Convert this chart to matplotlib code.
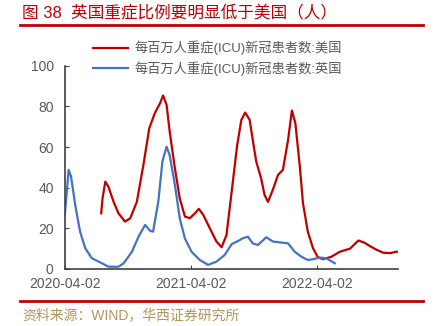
import matplotlib.pyplot as plt
import matplotlib.dates as mdates
import pandas as pd

plt.rcParams['font.family'] = ['Liberation Sans', 'Noto Sans CJK SC', 'DejaVu Sans']

# 每百万人重症(ICU)新冠患者数:美国
us_dates = ['2020-07-16', '2020-07-20', '2020-07-28', '2020-08-06', '2020-08-21',
            '2020-09-04', '2020-09-23', '2020-10-08', '2020-10-27', '2020-11-15',
            '2020-12-02', '2020-12-18', '2021-01-02', '2021-01-11', '2021-01-21',
            '2021-01-30', '2021-02-14', '2021-02-28', '2021-03-15', '2021-03-29',
            '2021-04-13', '2021-04-24', '2021-05-07', '2021-05-26', '2021-06-14',
            '2021-06-29', '2021-07-13', '2021-07-28', '2021-08-13', '2021-08-25',
            '2021-09-05', '2021-09-18', '2021-09-27', '2021-10-07', '2021-10-21',
            '2021-10-31', '2021-11-10', '2021-11-24', '2021-12-09', '2021-12-23',
            '2022-01-07', '2022-01-18', '2022-01-28', '2022-02-10', '2022-02-19',
            '2022-03-05', '2022-03-20', '2022-04-03', '2022-04-18', '2022-05-12',
            '2022-06-06', '2022-07-05', '2022-07-29', '2022-08-15', '2022-08-31',
            '2022-09-19', '2022-10-09', '2022-10-29', '2022-11-17']
us_icu = [27.4, 34.8, 43, 40.5, 33,
          27.4, 23.3, 25, 33, 51.2,
          69.3, 76.7, 81.6, 85.4, 80.8,
          67.6, 49.6, 34.8, 25.8, 25,
          27.4, 29.6, 26.6, 20, 13.5,
          10.7, 16.7, 38, 61, 73.4,
          77, 73.4, 63.5, 52.9, 44.7,
          36.5, 33, 39, 46.3, 48.8,
          63.5, 78, 71.8, 50.4, 32.4,
          18.4, 10.2, 5.8, 4.8, 6,
          8.5, 10, 14, 13, 11.3,
          9.5, 8, 7.8, 8.5]

# 每百万人重症(ICU)新冠患者数:英国
uk_dates = ['2020-04-02', '2020-04-13', '2020-04-20', '2020-05-02', '2020-05-16',
            '2020-05-31', '2020-06-19', '2020-07-18', '2020-08-06', '2020-09-04',
            '2020-09-19', '2020-10-13', '2020-11-01', '2020-11-20', '2020-12-05',
            '2020-12-13', '2020-12-28', '2021-01-09', '2021-01-21', '2021-01-30',
            '2021-02-14', '2021-02-28', '2021-03-15', '2021-04-03', '2021-04-27',
            '2021-05-21', '2021-06-14', '2021-07-08', '2021-07-28', '2021-08-16',
            '2021-08-29', '2021-09-13', '2021-09-27', '2021-10-12', '2021-11-05',
            '2021-11-24', '2021-12-18', '2022-01-07', '2022-01-26', '2022-02-14',
            '2022-03-05', '2022-03-20', '2022-04-08', '2022-04-27', '2022-05-22']
uk_icu = [26.6, 48.8, 45.5, 31.5, 18.4,
          10.2, 5.3, 2.8, 1.1, 1.1,
          2.8, 8.5, 15.9, 21.7, 18.7,
          18.4, 33, 53, 60.2, 56,
          41.4, 25, 15, 8.5, 4.4,
          2, 3.6, 6.9, 12.2, 13.8,
          15.1, 15.9, 12.6, 11.8, 15.6,
          13.5, 13, 12.6, 8.5, 6.1,
          4.4, 4.8, 5.6, 5.3, 2.8]

title = '图 38  英国重症比例要明显低于美国（人）'
source = '资料来源：WIND，华西证券研究所'

red = '#C00000'
blue = '#4472C4'
grey = '#595959'

fig = plt.figure(figsize=(4.38, 3.26), dpi=100)
ax = fig.add_axes([0.148, 0.175, 0.761, 0.623])

ax.plot(pd.to_datetime(us_dates), us_icu, color=red, lw=1.6,
        label='每百万人重症(ICU)新冠患者数:美国')
ax.plot(pd.to_datetime(uk_dates), uk_icu, color=blue, lw=1.6,
        label='每百万人重症(ICU)新冠患者数:英国')

ax.set_xlim(pd.Timestamp('2020-04-02'), pd.Timestamp('2022-11-21'))
ax.set_ylim(0, 100)
ax.set_yticks(range(0, 101, 20))
ax.set_xticks(pd.to_datetime(['2020-04-02', '2021-04-02', '2022-04-02']))
ax.xaxis.set_major_formatter(mdates.DateFormatter('%Y-%m-%d'))

for s in ['top', 'right']:
    ax.spines[s].set_visible(False)
for s in ['left', 'bottom']:
    ax.spines[s].set_color('#404040')
    ax.spines[s].set_linewidth(1.2)
ax.tick_params(direction='in', length=3, color='#404040', labelcolor=grey,
               labelsize=10)
ax.tick_params(axis='y', pad=8)
ax.tick_params(axis='x', pad=6)

leg = ax.legend(loc='lower left', bbox_to_anchor=(0.07, 0.925), frameon=False,
                fontsize=9.5, handlelength=2.6, handletextpad=0.5,
                labelspacing=0.45, borderaxespad=0)
for t in leg.get_texts():
    t.set_color(grey)

# 标题和来源
fig.text(0.05, 0.945, title, color=red, fontsize=12, ha='left', va='baseline')
fig.add_artist(plt.Line2D([0.046, 0.965], [0.922, 0.922], color=red, lw=2,
                          transform=fig.transFigure))
fig.add_artist(plt.Line2D([0.046, 0.965], [0.076, 0.076], color=red, lw=2,
                          transform=fig.transFigure))
fig.text(0.05, 0.02, source, color='#B8935A', fontsize=10, ha='left',
         va='baseline')

fig.savefig('out.png', dpi=100)
